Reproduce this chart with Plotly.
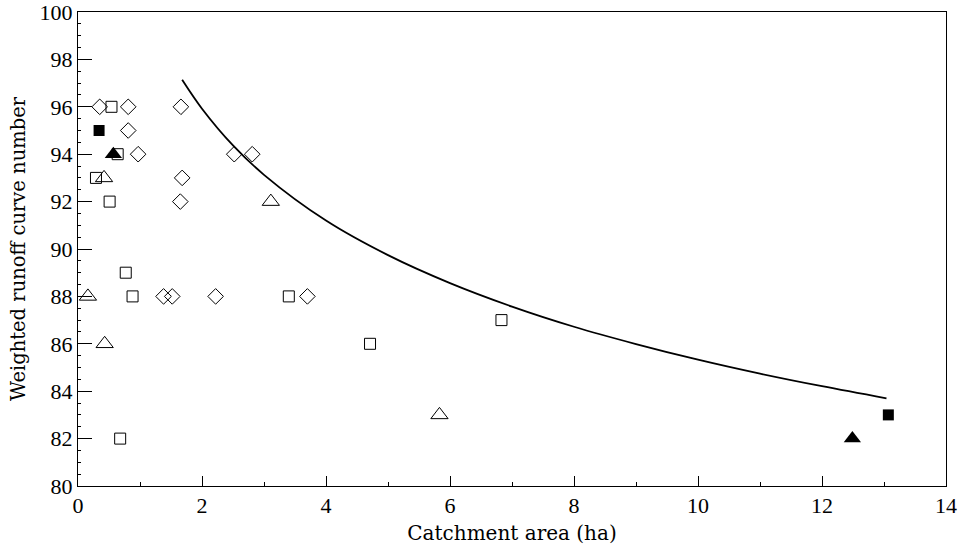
import plotly.graph_objects as go

# Open diamonds
dia_x = [0.35, 0.81, 1.66, 0.81, 0.97, 2.52, 2.81, 1.68, 1.65, 1.38, 1.52, 2.22, 3.70]
dia_y = [96, 96, 96, 95, 94, 94, 94, 93, 92, 88, 88, 88, 88]
# Open squares
sq_x = [0.54, 0.64, 0.29, 0.51, 0.77, 0.88, 0.68, 3.40, 4.71, 6.83]
sq_y = [96, 94, 93, 92, 89, 88, 82, 88, 86, 87]
# Open triangles
tri_x = [0.42, 3.11, 0.16, 0.43, 5.83]
tri_y = [93, 92, 88, 86, 83]
# Filled squares
fsq_x = [0.34, 13.07]
fsq_y = [95, 83]
# Filled triangles
ftri_x = [0.57, 12.49]
ftri_y = [94, 82]
# Fitted curve
curve_x = [1.68, 2, 2.5, 3, 4, 5, 6, 7, 8, 9, 10, 11, 12, 13.04]
curve_y = [97.14, 95.92, 94.37, 93.13, 91.20, 89.74, 88.56, 87.57, 86.72, 85.99, 85.33, 84.74, 84.21, 83.70]

TEXT_FONT = "DejaVu Serif"
TICK_FONT = "Liberation Serif"

fig = go.Figure()
fig.add_trace(go.Scatter(x=curve_x, y=curve_y, mode="lines", line=dict(color="black", width=1.8, shape="spline"),
                         hoverinfo="skip"))
fig.add_trace(go.Scatter(x=dia_x, y=dia_y, mode="markers",
                         marker=dict(symbol="diamond-open", size=12, color="black", line=dict(width=1))))
fig.add_trace(go.Scatter(x=sq_x, y=sq_y, mode="markers",
                         marker=dict(symbol="square-open", size=11, color="black", line=dict(width=1))))
fig.add_trace(go.Scatter(x=tri_x, y=tri_y, mode="markers",
                         marker=dict(symbol="triangle-up-open", size=15, color="black", line=dict(width=1))))
fig.add_trace(go.Scatter(x=fsq_x, y=fsq_y, mode="markers",
                         marker=dict(symbol="square", size=11, color="black", line=dict(width=0))))
fig.add_trace(go.Scatter(x=ftri_x, y=ftri_y, mode="markers",
                         marker=dict(symbol="triangle-up", size=15, color="black", line=dict(width=0))))

axis_common = dict(showgrid=False, zeroline=False, showline=True, linecolor="black", linewidth=1,
                   mirror=True, ticks="inside", tickcolor="black", tickwidth=1, automargin=False,
                   ticklabeloverflow="allow",
                   tickfont=dict(family=TICK_FONT, size=22, color="black"))

fig.update_xaxes(range=[0, 14], dtick=2, tick0=0, ticklen=10,
                 title=dict(text="Catchment area (ha)", font=dict(family=TEXT_FONT, size=20, color="black"), standoff=8),
                 minor=dict(ticks="inside", ticklen=4, tickcolor="black", dtick=1),
                 **axis_common)
fig.update_yaxes(range=[80, 100], dtick=2, tick0=80, ticklen=14,
                 title=dict(text="Weighted runoff curve number", font=dict(family=TEXT_FONT, size=19.5, color="black"), standoff=8),
                 minor=dict(ticks="inside", ticklen=3, tickcolor="black", dtick=0.5),
                 **axis_common)

fig.update_layout(width=963, height=546, margin=dict(l=78, r=17, t=12, b=60),
                  plot_bgcolor="white", paper_bgcolor="white", showlegend=False,
                  font=dict(family=TEXT_FONT, color="black"))

fig.write_html("out.html")
